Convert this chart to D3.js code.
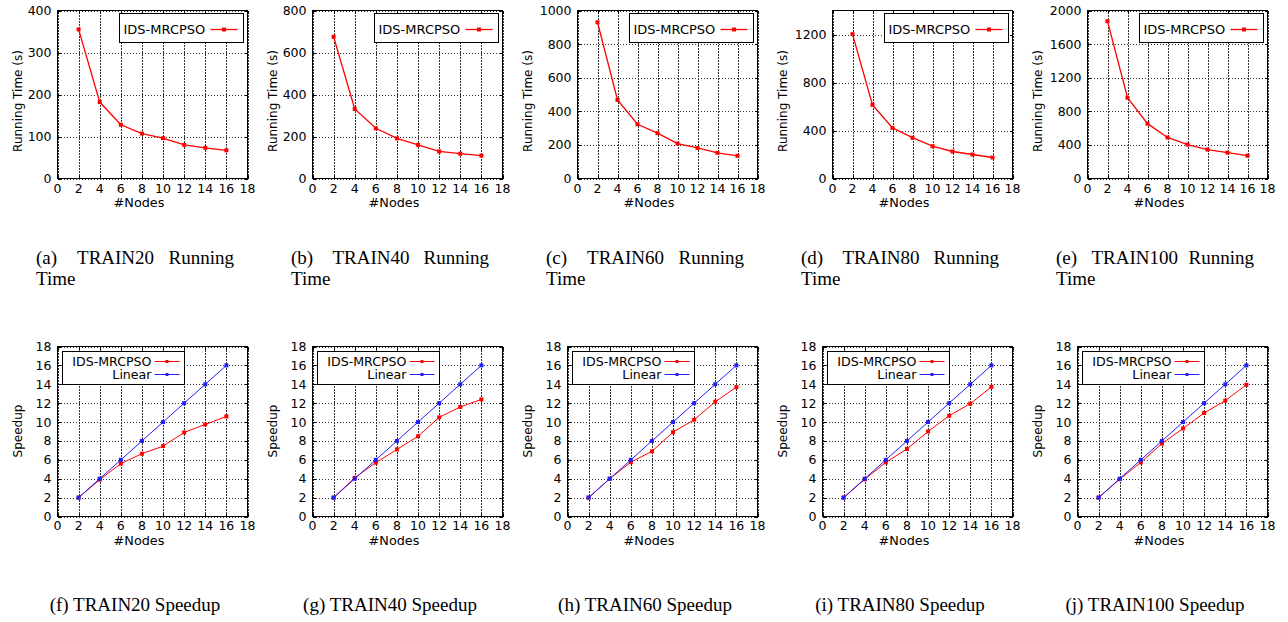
<!DOCTYPE html>
<html>
<head>
<meta charset="utf-8">
<script src="https://cdn.jsdelivr.net/npm/d3@7"></script>
<style>
  body { margin: 0; background: #fff; }
  svg text { font-family: "DejaVu Sans", sans-serif; fill: #000; }
  .grid line { stroke: #333; stroke-dasharray: 1.5,1.5; shape-rendering: crispEdges; }
  .grid path { display: none; }
  .ticks path { display: none; }
  .ticks line { stroke: #000; shape-rendering: crispEdges; }
  .caption { font-family: "Liberation Serif", "Times New Roman", serif; font-size: 19px; }
</style>
</head>
<body>
<svg id="fig" width="1288" height="622"></svg>
<script>

// x values (number of nodes) and axis ticks
var nodes = [2, 4, 6, 8, 10, 12, 14, 16];
var xTicks = [0, 2, 4, 6, 8, 10, 12, 14, 16, 18];

var datasetNames = ["TRAIN20", "TRAIN40", "TRAIN60", "TRAIN80", "TRAIN100"];
var topLetters = ["a", "b", "c", "d", "e"];
var bottomLetters = ["f", "g", "h", "i", "j"];

// running time (s)
var time20  = [355, 182, 128, 107, 96, 80, 73, 67];
var time40  = [675, 331, 239, 191, 160, 129, 118, 109];
var time60  = [930, 468, 323, 270, 208, 182, 153, 135];
var time80  = [1203, 614, 422, 340, 269, 225, 200, 175];
var time100 = [1873, 962, 653, 489, 404, 345, 308, 272];

// speedup
var speed20  = [2, 3.9, 5.6, 6.65, 7.45, 8.9, 9.75, 10.6];
var speed40  = [2, 4.1, 5.7, 7.1, 8.5, 10.5, 11.6, 12.4];
var speed60  = [2, 4.0, 5.75, 6.9, 8.93, 10.25, 12.15, 13.7];
var speed80  = [2, 3.93, 5.73, 7.15, 9.0, 10.67, 11.95, 13.73];
var speed100 = [2, 3.95, 5.73, 7.72, 9.32, 10.96, 12.27, 13.95];
var linear   = [2, 4, 6, 8, 10, 12, 14, 16];

// y axis ranges and ticks
var timeMax = [400, 800, 1000, 1400, 2000];
var timeTicks = [
  [0, 100, 200, 300, 400],
  [0, 200, 400, 600, 800],
  [0, 200, 400, 600, 800, 1000],
  [0, 400, 800, 1200],
  [0, 400, 800, 1200, 1600, 2000]
];
var speedMax = 18;
var speedTicks = [0, 2, 4, 6, 8, 10, 12, 14, 16, 18];

var times = [time20, time40, time60, time80, time100];
var speeds = [speed20, speed40, speed60, speed80, speed100];

var RED = "#ff0000";
var BLUE = "#2020ff";

var svg = d3.select("#fig");

function drawPanel(p) {
  var x = d3.scaleLinear().domain([0, 18]).range([p.left, p.right]);
  var y = d3.scaleLinear().domain([0, p.yMax]).range([p.bottom, p.top]);
  var g = svg.append("g");
  var ph = p.bottom - p.top, pw = p.right - p.left;

  // dotted grid
  g.append("g").attr("class", "grid")
    .attr("transform", "translate(0," + p.bottom + ")")
    .call(d3.axisBottom(x).tickValues(xTicks).tickSize(-ph).tickFormat(""));
  g.append("g").attr("class", "grid")
    .attr("transform", "translate(" + p.left + ",0)")
    .call(d3.axisLeft(y).tickValues(p.yTicks).tickSize(-pw).tickFormat(""));

  // small inward ticks on all four sides
  g.append("g").attr("class", "ticks").attr("transform", "translate(0," + p.bottom + ")")
    .call(d3.axisBottom(x).tickValues(xTicks).tickSize(-3).tickFormat(""));
  g.append("g").attr("class", "ticks").attr("transform", "translate(0," + p.top + ")")
    .call(d3.axisTop(x).tickValues(xTicks).tickSize(-3).tickFormat(""));
  g.append("g").attr("class", "ticks").attr("transform", "translate(" + p.left + ",0)")
    .call(d3.axisLeft(y).tickValues(p.yTicks).tickSize(-3).tickFormat(""));
  g.append("g").attr("class", "ticks").attr("transform", "translate(" + p.right + ",0)")
    .call(d3.axisRight(y).tickValues(p.yTicks).tickSize(-3).tickFormat(""));

  // border
  g.append("rect")
    .attr("x", p.left).attr("y", p.top)
    .attr("width", pw).attr("height", ph)
    .attr("fill", "none").attr("stroke", "#000").attr("stroke-width", 1)
    .attr("shape-rendering", "crispEdges");

  // tick labels
  g.selectAll("text.xt").data(xTicks).enter().append("text")
    .attr("class", "xt")
    .attr("x", function(d) { return x(d); })
    .attr("y", p.bottom + p.xTickDy)
    .attr("text-anchor", "middle")
    .attr("dominant-baseline", "central")
    .style("font-size", "12.5px")
    .text(function(d) { return d; });
  g.selectAll("text.yt").data(p.yTicks).enter().append("text")
    .attr("class", "yt")
    .attr("x", p.left - 6)
    .attr("y", function(d) { return y(d); })
    .attr("text-anchor", "end")
    .attr("dominant-baseline", "central")
    .style("font-size", "12.5px")
    .text(function(d) { return d; });

  // axis titles
  g.append("text")
    .attr("x", p.col + 139).attr("y", p.bottom + 24)
    .attr("text-anchor", "middle").attr("dominant-baseline", "central")
    .style("font-size", "12.8px")
    .text("#Nodes");
  g.append("text")
    .attr("transform", "translate(" + (p.col + 18) + "," + p.yLabelY + ") rotate(-90)")
    .attr("text-anchor", "middle").attr("dominant-baseline", "central")
    .style("font-size", "12px")
    .text(p.yLabel);

  // series
  var line = d3.line()
    .x(function(d, i) { return x(nodes[i]); })
    .y(function(d) { return y(d); });

  p.series.forEach(function(s) {
    g.append("path")
      .datum(s.values)
      .attr("d", line)
      .attr("fill", "none")
      .attr("stroke", s.color)
      .attr("stroke-width", s.width);
    g.selectAll(null).data(s.values).enter().append("rect")
      .attr("x", function(d, i) { return x(nodes[i]) - 2; })
      .attr("y", function(d) { return y(d) - 2; })
      .attr("width", 4).attr("height", 4)
      .attr("fill", s.color);
  });

  // legend
  if (p.legend === "topright") {
    var bw = 124, bh = 29;
    var bx = p.right - 4 - bw, by = p.top + 3;
    g.append("rect").attr("x", bx).attr("y", by).attr("width", bw).attr("height", bh)
      .attr("fill", "#fff").attr("stroke", "#000").attr("stroke-width", 1)
      .attr("shape-rendering", "crispEdges");
    var s0 = p.series[0];
    g.append("text").attr("x", bx + 4).attr("y", by + 16)
      .attr("dominant-baseline", "central").style("font-size", "13px")
      .text(s0.name);
    g.append("line").attr("x1", bx + bw - 33).attr("x2", bx + bw - 6)
      .attr("y1", by + 16).attr("y2", by + 16)
      .attr("stroke", s0.color).attr("stroke-width", s0.width);
    g.append("rect").attr("x", bx + bw - 19.5 - 2).attr("y", by + 16 - 2)
      .attr("width", 4).attr("height", 4).attr("fill", s0.color);
  } else {
    var bw2 = 122, bh2 = 33;
    var bx2 = p.left + 5, by2 = p.top + 5;
    g.append("rect").attr("x", bx2).attr("y", by2).attr("width", bw2).attr("height", bh2)
      .attr("fill", "#fff").attr("stroke", "#000").attr("stroke-width", 1)
      .attr("shape-rendering", "crispEdges");
    p.series.forEach(function(s, k) {
      var ly = by2 + 10 + k * 13;
      g.append("text").attr("x", bx2 + 89).attr("y", ly)
        .attr("text-anchor", "end")
        .attr("dominant-baseline", "central").style("font-size", "12.6px")
        .text(s.name);
      g.append("line").attr("x1", bx2 + 92).attr("x2", bx2 + 117)
        .attr("y1", ly).attr("y2", ly)
        .attr("stroke", s.color).attr("stroke-width", s.width);
      g.append("rect").attr("x", bx2 + 104.5 - 1.5).attr("y", ly - 1.5)
        .attr("width", 3).attr("height", 3).attr("fill", s.color);
    });
  }
}

// justified caption across [x0, x1], words with slightly wider gap after the label
function justifiedLine(words, x0, x1, yBase) {
  var tmp = words.map(function(w) {
    return svg.append("text").attr("class", "caption").attr("y", yBase).text(w);
  });
  var widths = tmp.map(function(t) { return t.node().getComputedTextLength(); });
  var free = (x1 - x0) - d3.sum(widths);
  var gaps = [free * 0.58, free * 0.42];
  var cx = x0;
  tmp.forEach(function(t, k) {
    t.attr("x", cx);
    cx += widths[k] + (gaps[k] || 0);
  });
}

for (var i = 0; i < 5; i++) {
  var col = i * 255;
  var wide = d3.max(timeTicks[i]) >= 1000;

  drawPanel({
    col: col, top: 10.5, bottom: 178.5,
    left: col + (wide ? 67.5 : 57.5), right: col + 247.5,
    yMax: timeMax[i], yTicks: timeTicks[i],
    xTickDy: 10, yLabel: "Running Time (s)", yLabelY: 101,
    legend: "topright",
    series: [{ name: "IDS-MRCPSO", values: times[i], color: RED, width: 1.3 }]
  });

  drawPanel({
    col: col, top: 346.5, bottom: 516.5,
    left: col + 57.5, right: col + 247.5,
    yMax: speedMax, yTicks: speedTicks,
    xTickDy: 8.5, yLabel: "Speedup", yLabelY: 431,
    legend: "topleft",
    series: [
      { name: "IDS-MRCPSO", values: speeds[i], color: RED, width: 1 },
      { name: "Linear", values: linear, color: BLUE, width: 1 }
    ]
  });

  justifiedLine(["(" + topLetters[i] + ")", datasetNames[i], "Running"], col + 36, col + 234, 264);
  svg.append("text").attr("class", "caption").attr("x", col + 36).attr("y", 285).text("Time");

  svg.append("text").attr("class", "caption")
    .attr("x", col + 135).attr("y", 611)
    .attr("text-anchor", "middle")
    .text("(" + bottomLetters[i] + ") " + datasetNames[i] + " Speedup");
}
</script>
</body>
</html>
